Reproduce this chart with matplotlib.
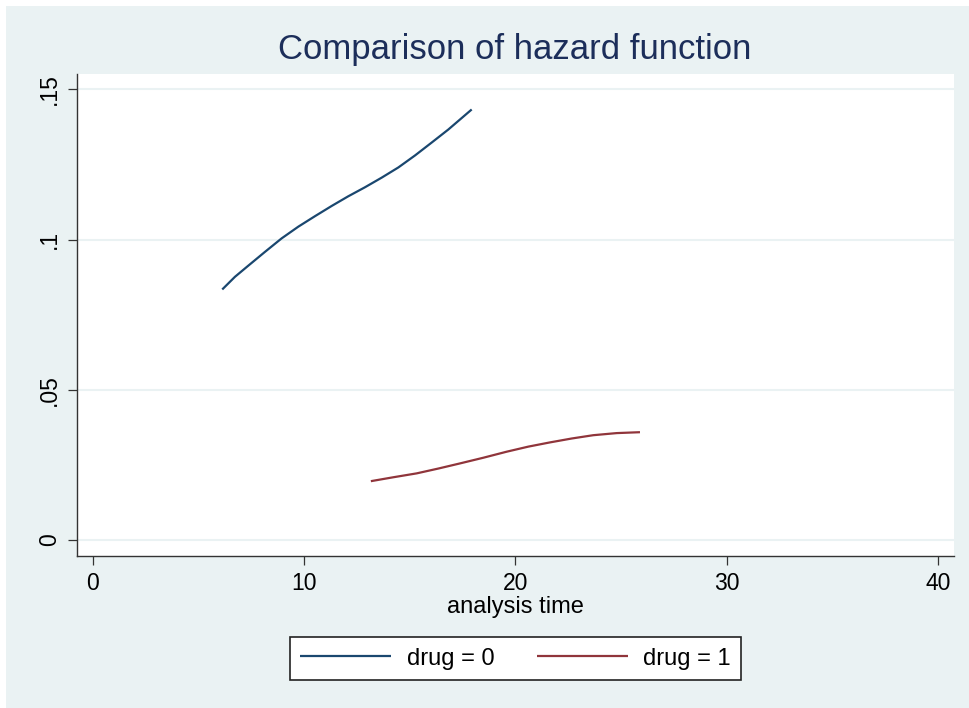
import matplotlib
matplotlib.use("Agg")
import matplotlib.pyplot as plt
from matplotlib.patches import Rectangle

plt.rcParams['font.family'] = ['Liberation Sans', 'DejaVu Sans']

# Data
time_drug0 = [6.13, 6.73, 7.36, 8.15, 8.94, 9.73, 10.52, 11.31, 12.09, 12.88,
              13.67, 14.46, 15.25, 16.04, 16.82, 17.93]
haz_drug0 = [0.0834, 0.0876, 0.0913, 0.0959, 0.1004, 0.1043, 0.1078, 0.1112, 0.1144, 0.1174,
             0.1206, 0.1240, 0.1280, 0.1323, 0.1366, 0.1433]
time_drug1 = [13.16, 14.22, 15.33, 16.35, 17.37, 18.48, 19.58, 20.61, 21.63, 22.66,
              23.68, 24.79, 25.89]
haz_drug1 = [0.0196, 0.0209, 0.0222, 0.0238, 0.0255, 0.0274, 0.0294, 0.0311, 0.0325, 0.0338,
             0.0349, 0.0356, 0.0359]
xticks = [0, 10, 20, 30, 40]
yticks = [0, 0.05, 0.10, 0.15]
ytick_labels = ["0", ".05", ".1", ".15"]
labels = ["drug = 0", "drug = 1"]
title = "Comparison of hazard function"
xlabel = "analysis time"

NAVY = "#1a476f"
MAROON = "#90353b"
BG = "#eaf2f3"

W, H = 969, 708
fig = plt.figure(figsize=(W / 100, H / 100), dpi=100)
fig.patch.set_facecolor("white")
fig.patches.append(Rectangle((6 / W, 0), 1 - 6 / W, 1 - 6 / H, transform=fig.transFigure,
                             facecolor=BG, edgecolor="none", zorder=-10))

ax = fig.add_axes([77 / W, 1 - 555.7 / H, (953.7 - 77) / W, (555.7 - 74) / H])
ax.set_facecolor("white")
ax.plot(time_drug0, haz_drug0, color=NAVY, lw=1.6, label=labels[0], solid_capstyle="butt")
ax.plot(time_drug1, haz_drug1, color=MAROON, lw=1.6, label=labels[1], solid_capstyle="butt")

ax.set_xlim(-0.74, 40.73)
ax.set_ylim(-0.0052, 0.1551)
ax.set_xticks(xticks)
ax.set_xticklabels([str(v) for v in xticks], fontsize=16.5)
ax.set_yticks(yticks)
ax.set_yticklabels(ytick_labels, fontsize=16.5, rotation=90, va="center")
ax.tick_params(axis="both", direction="out", length=6.5, width=0.9, color="#333333", pad=5)
ax.grid(axis="y", color=BG, lw=1.5)
ax.set_axisbelow(True)
for s in ["top", "right"]:
    ax.spines[s].set_visible(False)
for s in ["left", "bottom"]:
    ax.spines[s].set_color("#333333")
    ax.spines[s].set_linewidth(1.0)

fig.text(515 / W, 1 - 607 / H, xlabel, ha="center", va="center", fontsize=17)
fig.text(515 / W, 1 - 50 / H, title, ha="center", va="center", fontsize=25, color="#1c2e5a")

leg = ax.legend(loc="center", bbox_to_anchor=(515.5 / W, 1 - 658.5 / H), bbox_transform=fig.transFigure,
                ncol=2, fontsize=17, frameon=True, fancybox=False, handlelength=3.85,
                columnspacing=1.8, handletextpad=0.65, borderpad=0.45, borderaxespad=0,
                framealpha=1)
leg.get_frame().set_edgecolor("#222222")
leg.get_frame().set_linewidth(1.2)
leg.get_frame().set_facecolor("white")

fig.savefig("out.png", dpi=100, facecolor=fig.get_facecolor())
